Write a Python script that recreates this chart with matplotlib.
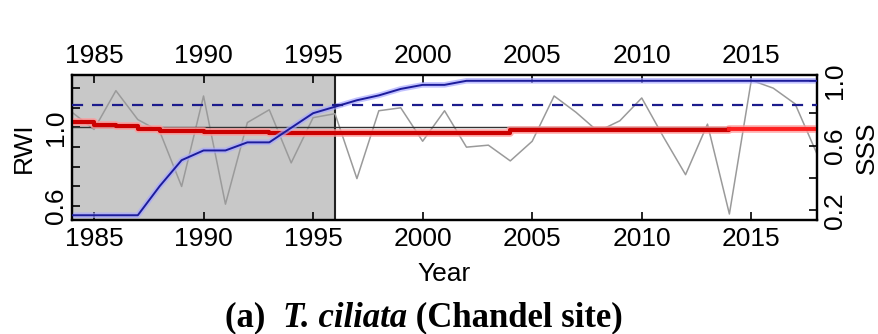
import matplotlib.pyplot as plt
import numpy as np

plt.rcParams["font.family"] = ["Liberation Sans", "DejaVu Sans"]

years = np.arange(1984, 2019)
rwi = [1.077, 0.99, 1.187, 1.04, 0.98, 0.70, 1.16, 0.61, 1.025, 1.09,
       0.82, 1.05, 1.07, 0.74, 1.085, 1.10, 0.93, 1.085, 0.90, 0.91,
       0.83, 0.93, 1.16, 1.077, 0.98, 1.034, 1.15, 0.95, 0.76, 1.017,
       0.56, 1.24, 1.20, 1.12, 0.865]
sss = [0.17, 0.17, 0.17, 0.17, 0.35, 0.51, 0.57, 0.57, 0.62, 0.62,
       0.71, 0.80, 0.84, 0.88, 0.91, 0.95, 0.975, 0.975, 1.0, 1.0,
       1.0, 1.0, 1.0, 1.0, 1.0, 1.0, 1.0, 1.0, 1.0, 1.0,
       1.0, 1.0, 1.0, 1.0, 1.0]
red_years = [1984, 1985, 1986, 1987, 1988, 1990, 1993, 2004, 2014, 2018]
red_vals = [1.026, 1.012, 1.005, 0.992, 0.983, 0.978, 0.970, 0.987, 0.992, 0.992]
sss_threshold = 0.85
period_end = 1996
xticks = [1985, 1990, 1995, 2000, 2005, 2010, 2015]

fig = plt.figure(figsize=(8.79, 3.34), dpi=100)
ax = fig.add_axes([0.082, 0.341, 0.8475, 0.434])

ax.axvspan(1984, period_end, color='#c8c8c8', lw=0, zorder=0)
ax.axvline(period_end, color='#222222', lw=1.5, zorder=1)
ax.plot(years, rwi, color='#9a9a9a', lw=1.1, zorder=2)
ax.axhline(1.0, color='#333333', lw=1.0, zorder=2)

# running value: light halo plus step core
ax.step(red_years, red_vals, where='post', color='#ff9a9a', lw=5.5, alpha=0.8, zorder=3)
k = red_years.index(2014)
ax.step(red_years[:k + 1], red_vals[:k + 1], where='post', color='#cc0000', lw=3.0, zorder=4)
ax.step(red_years[k:], red_vals[k:], where='post', color='#ff2020', lw=2.8, zorder=4)

ax.set_xlim(1984, 2018)
ax.set_ylim(0.529, 1.266)
ax.set_xticks(xticks)
ax.set_yticks([0.6, 1.0])
ax.set_yticks([0.7, 0.8, 0.9, 1.1, 1.2], minor=True)
ax.set_yticklabels(['0.6', '1.0'], rotation=90, va='center')
ax.tick_params(axis='both', which='both', direction='in', labelsize=19, length=6, width=1.2)
ax.tick_params(axis='x', top=True, labeltop=True, pad=5)
ax.tick_params(axis='y', pad=3)
ax.set_ylabel('RWI', fontsize=19, labelpad=6)
ax.set_xlabel('Year', fontsize=19, labelpad=8)
for s in ax.spines.values():
    s.set_linewidth(1.6)

ax2 = ax.twinx()
ax2.plot(years, sss, color='#a8a8ff', lw=4, alpha=0.7, zorder=2)
ax2.plot(years, sss, color='#1c1c9c', lw=1.4, zorder=3)
ax2.axhline(sss_threshold, color='#1c1c8c', lw=1.6, ls=(0, (5, 4)), zorder=3)
ax2.set_ylim(0.14, 1.035)
ax2.set_yticks([0.2, 0.6, 1.0])
ax2.set_yticks([0.4, 0.8], minor=True)
ax2.set_yticklabels(['0.2', '0.6', '1.0'], rotation=90, va='center')
ax2.tick_params(axis='y', which='both', direction='in', labelsize=19, length=6, width=1.2, pad=4)
ax2.set_ylabel('SSS', fontsize=19, rotation=90, labelpad=6)
for s in ax2.spines.values():
    s.set_linewidth(1.6)

# caption with mixed styles
serif = ["Liberation Serif", "DejaVu Serif"]
cy = 0.022
t1 = fig.text(0.256, cy, "(a)  ", family=serif, weight='bold', fontsize=25)
t2 = fig.text(0, 0, "T. ciliata", family=serif, weight='bold', style='italic', fontsize=25)
t3 = fig.text(0, 0, " (Chandel site)", family=serif, weight='bold', fontsize=25)
fig.canvas.draw()
r = fig.canvas.get_renderer()
bb = t1.get_window_extent(r)
t2.set_position((bb.x1 / fig.bbox.width, cy))
bb = t2.get_window_extent(r)
t3.set_position((bb.x1 / fig.bbox.width, cy))

fig.savefig("out.png", dpi=100)
